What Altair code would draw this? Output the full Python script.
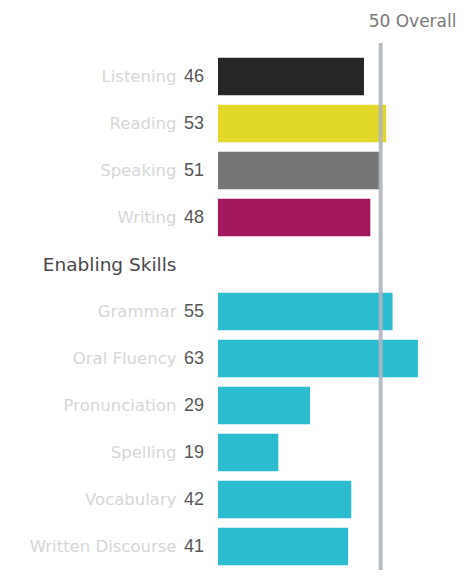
import altair as alt
import pandas as pd

# Communicative skills
skills = ["Listening", "Reading", "Speaking", "Writing"]
skill_scores = [46, 53, 51, 48]
skill_colors = ["#262626", "#e2d82a", "#767676", "#a3175f"]

# Enabling skills
header = "Enabling Skills"
enabling = ["Grammar", "Oral Fluency", "Pronunciation", "Spelling", "Vocabulary", "Written Discourse"]
enabling_scores = [55, 63, 29, 19, 42, 41]
enabling_color = "#2bbccf"

overall = 50

order = skills + [header] + enabling

df = pd.DataFrame({
    "skill": skills + enabling,
    "score": skill_scores + enabling_scores,
    "group": skills + ["Enabling"] * len(enabling),
})
color_domain = skills + ["Enabling"]
color_range = skill_colors + [enabling_color]

overall_df = pd.DataFrame({"score": [overall], "label": [f"{overall} Overall"]})

W, H = 238, 517
xscale = alt.Scale(domain=[0, 75], zero=True, nice=False)
yscale = alt.Scale(domain=order, paddingInner=0.2, paddingOuter=0.1)

y_enc = alt.Y(
    "skill:N", sort=order, scale=yscale, title=None,
    axis=alt.Axis(
        domain=False, ticks=False, tickSize=0, labelPadding=42, grid=False,
        labelFont="DejaVu Sans",
        labelColor={"condition": {"test": f"datum.value == '{header}'", "value": "#484848"}, "value": "#d6d6d6"},
        labelFontSize={"condition": {"test": f"datum.value == '{header}'", "value": 18.5}, "value": 16.5},
        labelLimit=300,
    ),
)

bars = alt.Chart(df).mark_bar().encode(
    x=alt.X("score:Q", scale=xscale, axis=None),
    y=y_enc,
    color=alt.Color("group:N", scale=alt.Scale(domain=color_domain, range=color_range), legend=None),
)

nums = alt.Chart(df).mark_text(
    align="right", baseline="middle", dx=-14, fontSize=18, color="#575757",
    font="Liberation Sans",
).encode(
    x=alt.datum(0, scale=xscale),
    y=alt.Y("skill:N", sort=order, scale=yscale),
    text="score:Q",
)

rule = alt.Chart(overall_df).mark_rule(
    color="#b0b4bf", strokeWidth=4, opacity=0.9, xOffset=4
).encode(
    x=alt.X("score:Q", scale=xscale),
    y=alt.value(-10),
    y2=alt.value(H),
)

overall_text = alt.Chart(overall_df).mark_text(
    align="left", baseline="middle", dx=-8, fontSize=17, color="#7a7a7a",
    font="DejaVu Sans",
).encode(
    x=alt.X("score:Q", scale=xscale),
    y=alt.value(-31),
    text="label:N",
)

chart = alt.layer(bars, nums, rule, overall_text).properties(
    width=W, height=H,
    autosize=alt.AutoSizeParams(type="none"),
    padding={"left": 210, "top": 45, "right": 10, "bottom": 0},
    background="white",
).configure_view(stroke=None)

chart.save("out.html", embed_options={"renderer": "svg", "actions": False})
